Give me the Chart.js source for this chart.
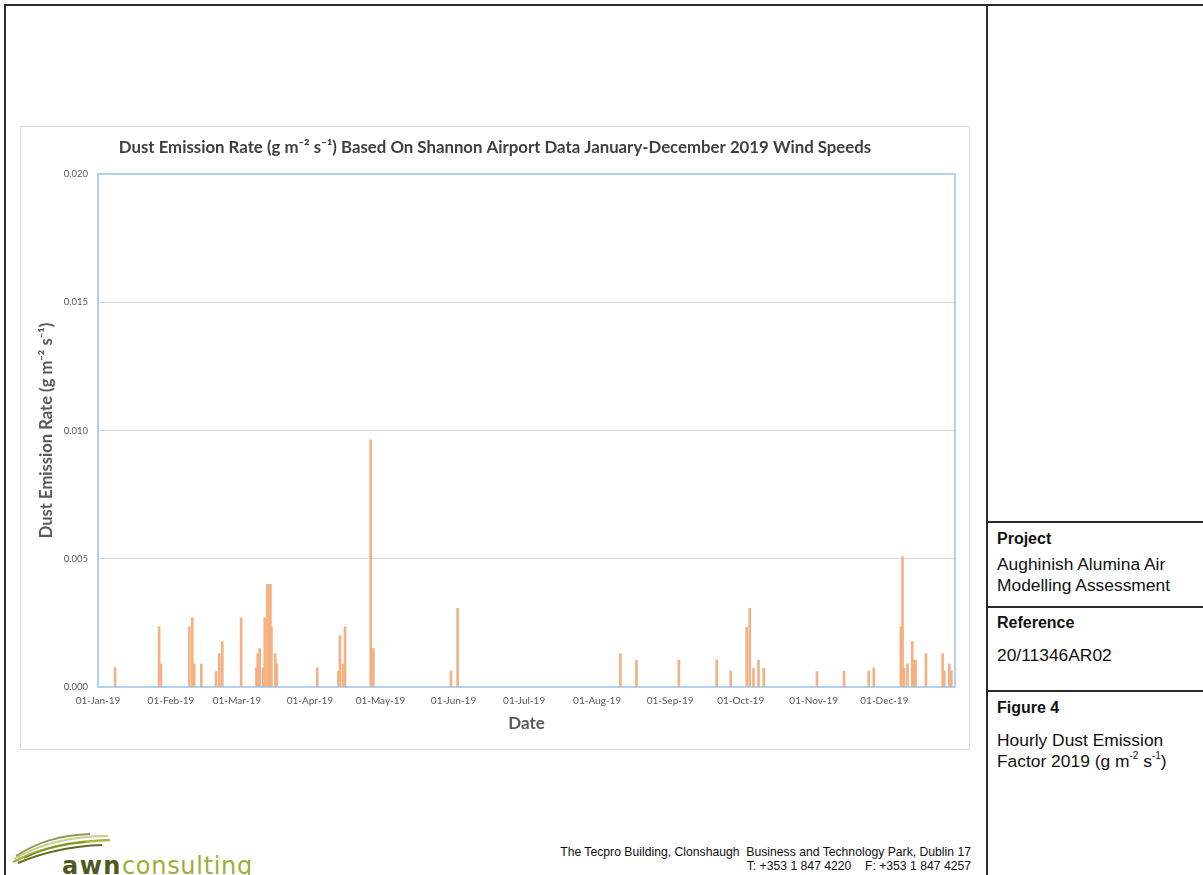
<!DOCTYPE html>
<html>
<head>
<meta charset="utf-8">
<title>Hourly Dust Emission Factor 2019</title>
<script src="https://cdn.jsdelivr.net/npm/chart.js@4.4.1/dist/chart.umd.min.js"></script>
<style>
  html, body { margin: 0; padding: 0; background: #fff; }
  body { width: 1203px; height: 875px; position: relative; overflow: hidden; font-family: "Liberation Sans", Arial, sans-serif; color: #111; }
  .rule { position: absolute; background: #2b2b2b; }
  #chartBox { position: absolute; left: 20px; top: 126px; width: 948px; height: 622px; border: 1px solid #dcdcdc; background: #fff; }
  #chartBox canvas { display: block; }
  .panel { position: absolute; left: 997px; font-size: 17.4px; line-height: 21px; color: #111; white-space: nowrap; }
  .panel b { font-size: 16px; }
  sup { font-size: 10px; line-height: 0; position: relative; top: -1px; vertical-align: super; }
  #address { position: absolute; right: 232px; top: 845px; font-size: 12.2px; line-height: 14px; text-align: right; color: #111; white-space: pre; }
  #logo { position: absolute; left: 10px; top: 826px; }
  #brand { position: absolute; left: 62px; top: 851px; font-family: "DejaVu Sans", sans-serif; font-size: 24px; letter-spacing: 0.7px; line-height: 30px; white-space: nowrap; }
  #brand .awn { color: #4d5a1f; font-weight: bold; letter-spacing: 1.5px; }
  #brand .cons { color: #9fae35; }
</style>
</head>
<body>
<!-- page frame -->
<div class="rule" style="left:4px;top:4px;width:1199px;height:2px"></div>
<div class="rule" style="left:4px;top:4px;width:2px;height:871px"></div>
<div class="rule" style="left:986px;top:4px;width:2px;height:871px"></div>
<div class="rule" style="left:986px;top:521px;width:217px;height:2px"></div>
<div class="rule" style="left:986px;top:606px;width:217px;height:2px"></div>
<div class="rule" style="left:986px;top:690px;width:217px;height:2px"></div>

<div id="chartBox"><canvas id="chart" width="948" height="622"></canvas></div>

<div class="panel" style="top:528px"><b>Project</b></div>
<div class="panel" style="top:554px">Aughinish Alumina Air<br>Modelling Assessment</div>
<div class="panel" style="top:612px"><b>Reference</b></div>
<div class="panel" style="top:645px">20/11346AR02</div>
<div class="panel" style="top:697px"><b>Figure 4</b></div>
<div class="panel" style="top:730px">Hourly Dust Emission<br>Factor 2019 (g m<sup>-2</sup> s<sup>-1</sup>)</div>

<div id="address">The Tecpro Building, Clonshaugh  Business and Technology Park, Dublin 17
T: +353 1 847 4220    F: +353 1 847 4257</div>

<svg id="logo" width="110" height="40" viewBox="0 0 110 40">
  <path d="M4 33 C 30 18, 60 10, 98 10" fill="none" stroke="#c9cf8a" stroke-width="2"/>
  <path d="M6 30 C 28 16, 50 9, 80 8" fill="none" stroke="#8e9a58" stroke-width="2"/>
  <path d="M3 36 C 30 22, 60 15, 100 14" fill="none" stroke="#a9b53c" stroke-width="2.4"/>
  <path d="M8 37 C 34 26, 62 20, 92 19" fill="none" stroke="#5f6e22" stroke-width="2.2"/>
  <path d="M14 32 C 34 22, 56 17, 76 16" fill="none" stroke="#7a8a2a" stroke-width="1.6"/>
</svg>
<div id="brand"><span class="awn">awn</span><span class="cons">consulting</span></div>

<script>
// Hourly exceedance events (UTC hour) and their dust emission rates, g m-2 s-1
const eventTimes = [
  '2019-01-08T06:00Z', '2019-01-26T23:00Z', '2019-01-27T17:00Z',
  '2019-02-08T18:00Z', '2019-02-10T01:00Z', '2019-02-10T21:00Z', '2019-02-13T21:00Z',
  '2019-02-20T03:00Z', '2019-02-21T13:00Z', '2019-02-22T19:00Z',
  '2019-03-02T19:00Z', '2019-03-09T07:00Z', '2019-03-09T20:00Z', '2019-03-10T17:00Z',
  '2019-03-12T03:00Z', '2019-03-12T20:00Z', '2019-03-13T23:00Z', '2019-03-14T15:00Z',
  '2019-03-15T06:00Z', '2019-03-15T16:00Z', '2019-03-17T06:00Z', '2019-03-17T23:00Z',
  '2019-04-04T03:00Z', '2019-04-13T02:00Z', '2019-04-13T18:00Z', '2019-04-15T01:00Z',
  '2019-04-15T22:00Z', '2019-04-26T20:00Z', '2019-04-27T23:00Z',
  '2019-05-30T22:00Z', '2019-06-02T18:00Z',
  '2019-08-10T21:00Z', '2019-08-17T17:00Z', '2019-09-04T17:00Z', '2019-09-20T19:00Z',
  '2019-09-26T18:00Z', '2019-10-03T13:00Z', '2019-10-04T20:00Z', '2019-10-06T10:00Z',
  '2019-10-08T13:00Z', '2019-10-10T19:00Z', '2019-11-02T09:00Z', '2019-11-13T21:00Z',
  '2019-11-24T09:00Z', '2019-11-26T12:00Z', '2019-12-08T00:00Z', '2019-12-08T17:00Z',
  '2019-12-09T10:00Z', '2019-12-10T20:00Z', '2019-12-12T20:00Z', '2019-12-13T13:00Z',
  '2019-12-14T06:00Z', '2019-12-18T16:00Z', '2019-12-25T18:00Z', '2019-12-26T11:00Z',
  '2019-12-28T14:00Z', '2019-12-29T11:00Z'
];
const emissionRates = [
  0.00075, 0.00235, 0.0009,
  0.00235, 0.0027, 0.0009, 0.0009,
  0.0006, 0.0013, 0.00177,
  0.0027, 0.00075, 0.0013, 0.0015,
  0.00075, 0.0027, 0.0040, 0.0040,
  0.0040, 0.00235, 0.0013, 0.0009,
  0.00075, 0.0006, 0.0020, 0.0009,
  0.00235, 0.00963, 0.0015,
  0.00063, 0.00307,
  0.0013, 0.00105, 0.00105, 0.00105,
  0.00063, 0.00233, 0.00307, 0.00073,
  0.00105, 0.00073, 0.0006, 0.00062,
  0.00062, 0.00075, 0.00235, 0.00508,
  0.00073, 0.0009, 0.00177, 0.00105,
  0.00105, 0.0013, 0.0013, 0.00063,
  0.0009, 0.00063
];

// Date axis: first of each month, with its printed label
const monthStarts = ['2019-01-01', '2019-02-01', '2019-03-01', '2019-04-01', '2019-05-01', '2019-06-01',
                     '2019-07-01', '2019-08-01', '2019-09-01', '2019-10-01', '2019-11-01', '2019-12-01'];
const monthLabels = ['01-Jan-19', '01-Feb-19', '01-Mar-19', '01-Apr-19', '01-May-19', '01-Jun-19',
                     '01-Jul-19', '01-Aug-19', '01-Sep-19', '01-Oct-19', '01-Nov-19', '01-Dec-19'];
const axisStart = '2019-01-01';
const axisEnd = '2019-12-31';

// Rate axis
const rateMin = 0, rateMax = 0.020, rateStep = 0.005;

// Days elapsed since the start of the axis
const t0 = Date.parse(axisStart);
const dayOf = s => (Date.parse(s) - t0) / 86400000;

const points = eventTimes.map((t, i) => ({ x: dayOf(t), y: emissionRates[i] }));
const monthTicks = monthStarts.map(dayOf);

const TEXT = '#595959';
const TITLE = '#404040';
const FONT = 'Lato, "Open Sans", sans-serif';

// Light-blue frame round the plot area
const plotFrame = {
  id: 'plotFrame',
  afterDatasetsDraw(chart) {
    const { ctx, chartArea: a } = chart;
    ctx.save();
    ctx.strokeStyle = '#9dc3e6';
    ctx.lineWidth = 1.5;
    ctx.strokeRect(a.left, a.top, a.right - a.left, a.bottom - a.top);
    ctx.restore();
  }
};

new Chart(document.getElementById('chart'), {
  type: 'bar',
  data: {
    datasets: [{
      label: 'Dust Emission Rate',
      data: points,
      backgroundColor: '#f4b183',
      borderWidth: 0,
      barThickness: 2
    }]
  },
  options: {
    responsive: false,
    animation: false,
    events: [],
    layout: { padding: { left: 14, right: 14, top: 0, bottom: 0 } },
    plugins: {
      legend: { display: false },
      tooltip: { enabled: false },
      title: {
        display: true,
        text: 'Dust Emission Rate (g m\u207B\u00B2 s\u207B\u00B9) Based On Shannon Airport Data January-December 2019 Wind Speeds',
        color: TITLE,
        font: { family: FONT, size: 16.8, weight: 'bold', lineHeight: 1.2 },
        padding: { top: 10.9, bottom: 15.9 }
      }
    },
    scales: {
      x: {
        type: 'linear',
        min: dayOf(axisStart),
        max: dayOf(axisEnd),
        offset: false,
        grid: { display: false, drawTicks: false, offset: false },
        border: { display: false },
        afterBuildTicks(scale) { scale.ticks = monthTicks.map(v => ({ value: v })); },
        afterFit(scale) { scale.height = 62; },
        ticks: {
          autoSkip: false,
          maxRotation: 0,
          padding: 8,
          color: TEXT,
          font: { family: FONT, size: 10 },
          callback: (v) => {
            const i = monthTicks.indexOf(v);
            return i >= 0 ? monthLabels[i] : '';
          }
        },
        title: {
          display: true,
          text: 'Date',
          color: TEXT,
          font: { family: FONT, size: 17, weight: 'bold', lineHeight: 1.2 },
          padding: { top: 0, bottom: 14.8 }
        }
      },
      y: {
        min: rateMin,
        max: rateMax,
        grid: {
          color: (c) => (c.tick.value > rateMin && c.tick.value < rateMax) ? '#d9d9d9' : 'rgba(0,0,0,0)',
          lineWidth: 1,
          drawTicks: false
        },
        border: { display: false },
        afterFit(scale) { scale.width = 63; },
        ticks: {
          stepSize: rateStep,
          padding: 10,
          color: TEXT,
          font: { family: FONT, size: 9.5 },
          callback: (v) => v.toFixed(3)
        },
        title: {
          display: true,
          text: 'Dust Emission Rate (g m\u207B\u00B2 s\u207B\u00B9)',
          color: TEXT,
          font: { family: FONT, size: 16.6, weight: 'bold', lineHeight: 1.2 },
          padding: { top: 2, bottom: 0 }
        }
      }
    }
  },
  plugins: [plotFrame]
});
</script>
</body>
</html>
